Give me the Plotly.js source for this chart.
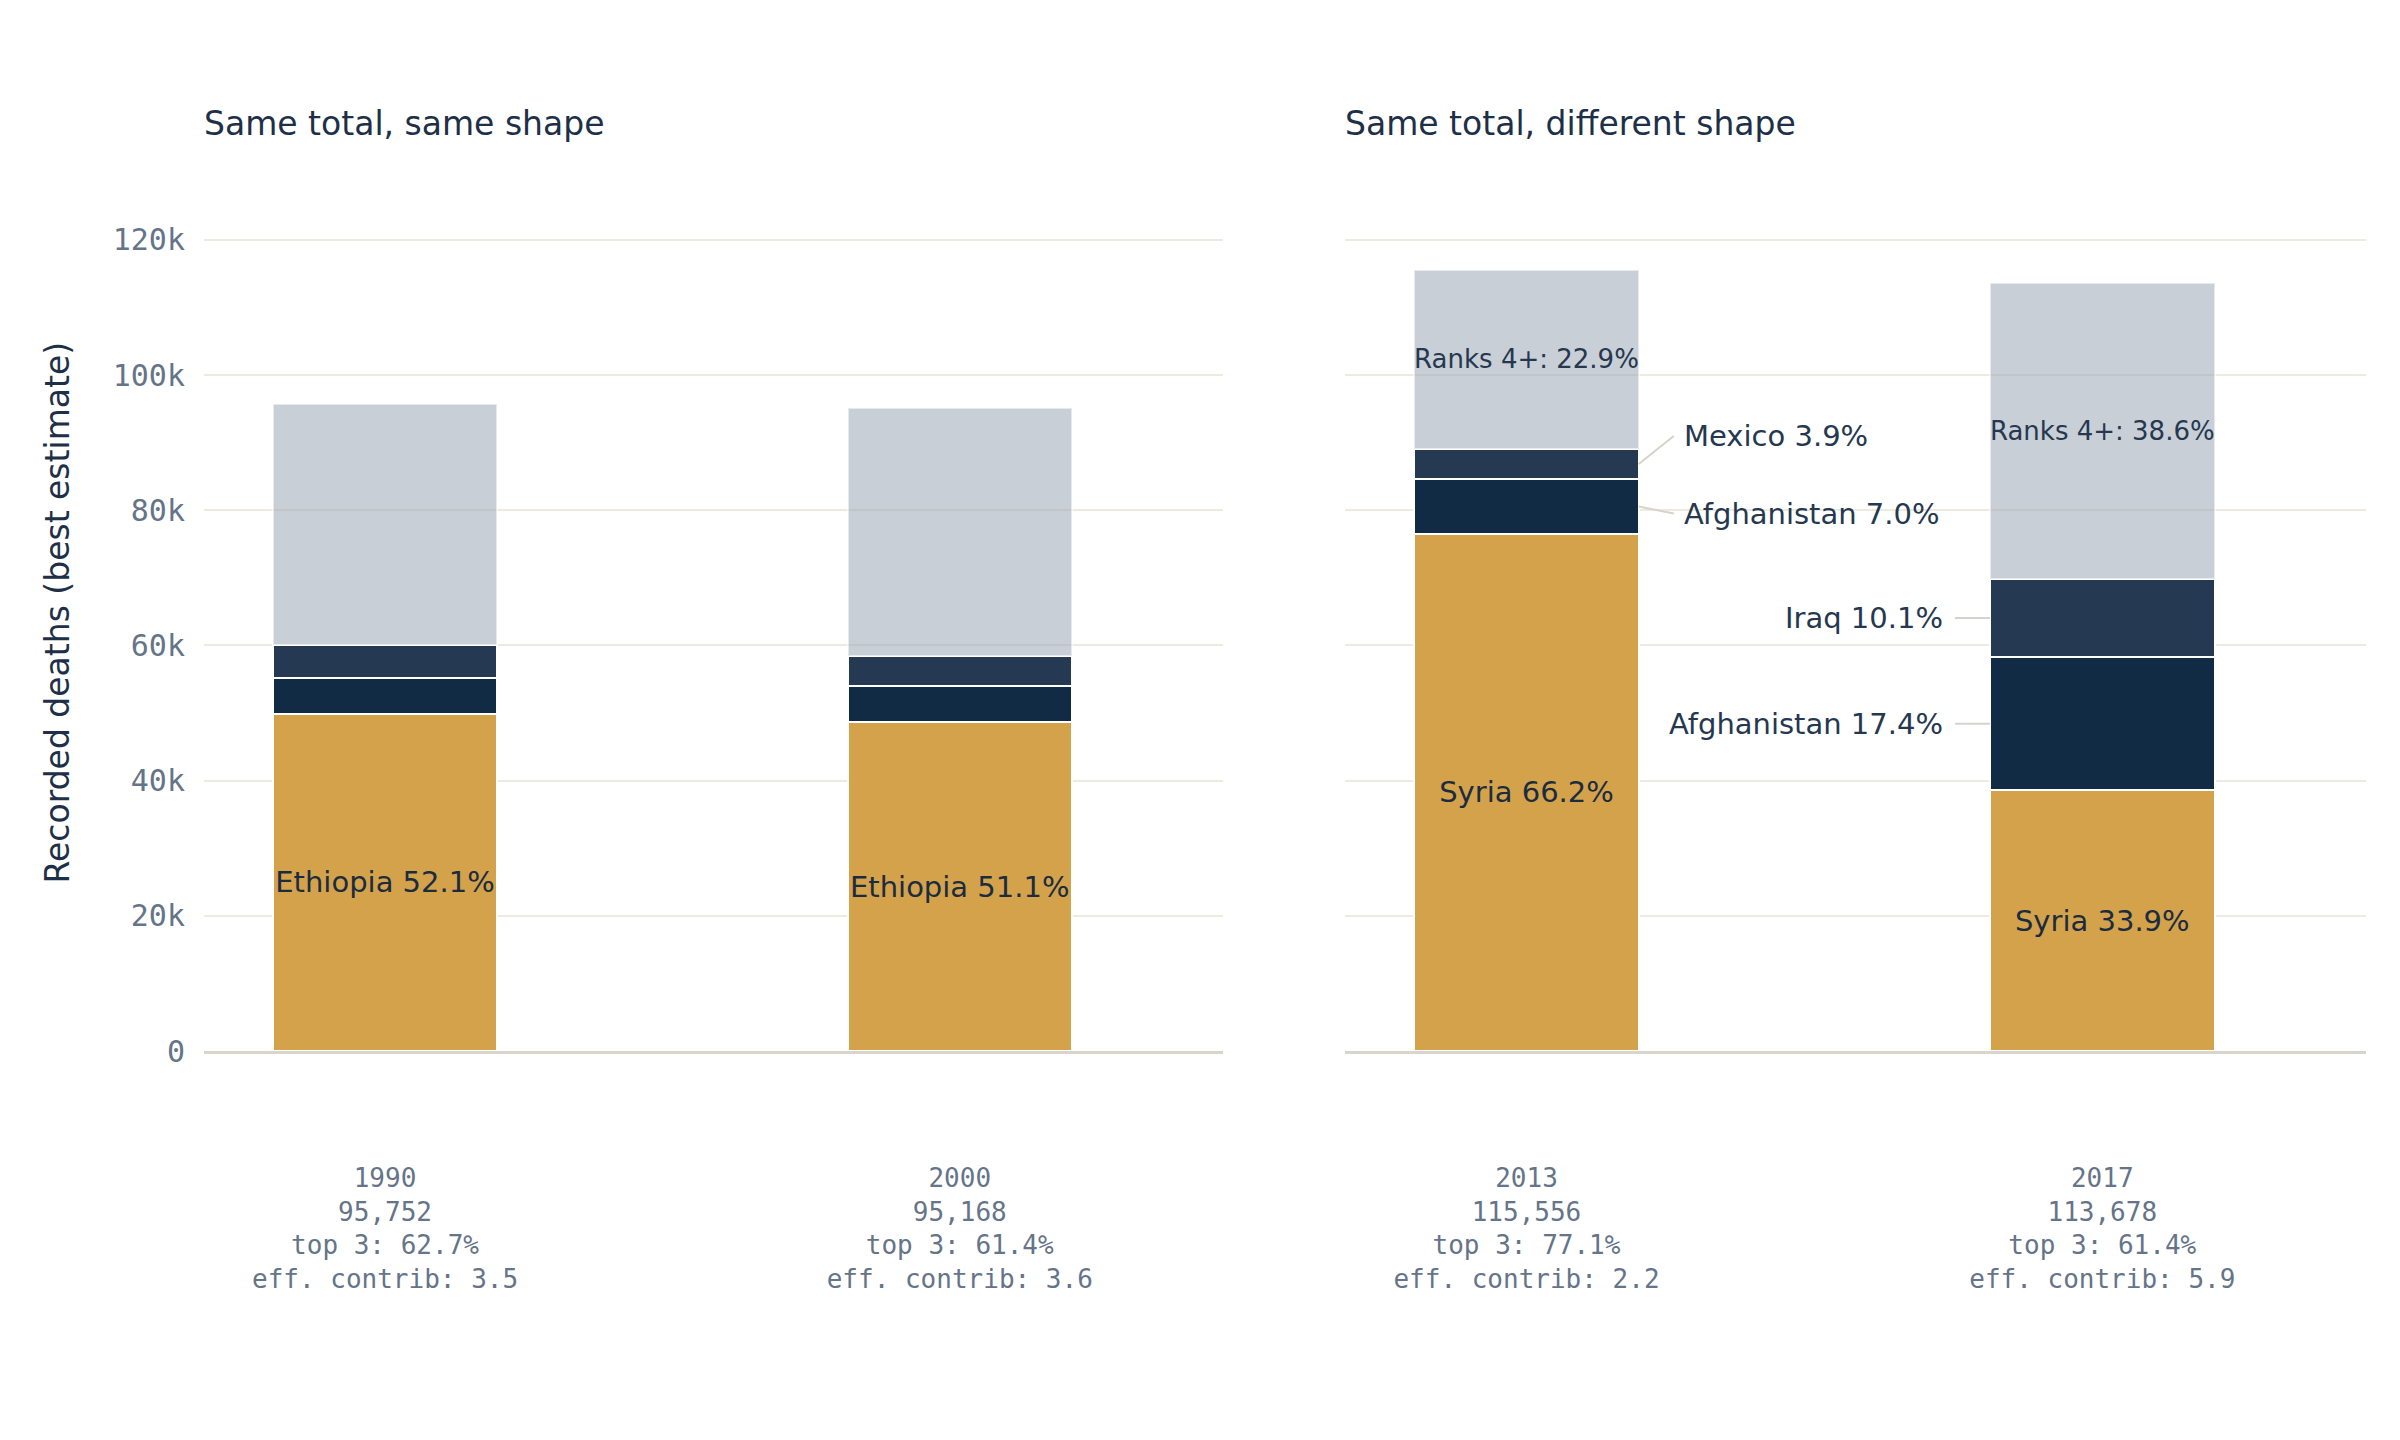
<!DOCTYPE html>
<html><head><meta charset="utf-8">
<script src="https://cdn.plot.ly/plotly-3.0.1.min.js"></script>
<style>html,body{margin:0;padding:0;background:#fff;}#chart{width:2400px;height:1440px;}</style>
</head><body><div id="chart"></div>
<script>
// ---- data ----
const years = ['1990', '2000', '2013', '2017'];
const panelTitles = ['Same total, same shape', 'Same total, different shape'];
const rank1Names = ['Ethiopia', 'Ethiopia', 'Syria', 'Syria'];
const rank2Names = ['', '', 'Afghanistan', 'Afghanistan'];
const rank3Names = ['', '', 'Mexico', 'Iraq'];
const rank1Vals = [49887, 48631, 76498, 38537];
const rank2Vals = [5307, 5380, 8089, 19780];
const rank3Vals = [4843, 4422, 4507, 11481];
const restVals = [35715, 36735, 26462, 43880];
const effContrib = [3.5, 3.6, 2.2, 5.9];
const yTickVals = [0, 20000, 40000, 60000, 80000, 100000, 120000];

// ---- styles ----
const FONT = 'DejaVu Sans, sans-serif';
const MONO = 'DejaVu Sans Mono, monospace';
const C_GOLD = '#d4a24a', C_R2 = '#122b44', C_R3 = '#253a52', C_REST = 'rgba(148,160,176,0.5)';
const TXT_DARK = '#1b2b40', TXT_MID = '#26384f', TICK = '#657488', TITLE = '#1e3048';
const BARW = 0.39;

const totals = years.map((_, i) => rank1Vals[i] + rank2Vals[i] + rank3Vals[i] + restVals[i]);
const pct = (v, i) => (100 * v / totals[i]).toFixed(1) + '%';

const panels = [[0, 1], [2, 3]];
const traces = [];
const annotations = [];

panels.forEach((idx, p) => {
  const xa = p === 0 ? 'x' : 'x2';
  const ya = p === 0 ? 'y' : 'y2';
  const xs = idx.map(i => years[i]);
  const common = {type: 'bar', x: xs, xaxis: xa, yaxis: ya, width: idx.map(() => BARW),
    textposition: 'inside', insidetextanchor: 'middle', constraintext: 'none', textangle: 0,
    hoverinfo: 'skip', cliponaxis: false};
  traces.push(Object.assign({}, common, {
    y: idx.map(i => rank1Vals[i]),
    text: idx.map(i => rank1Names[i] + ' ' + pct(rank1Vals[i], i)),
    textfont: {family: FONT, size: 29, color: TXT_DARK},
    marker: {color: C_GOLD, line: {color: '#ffffff', width: 2}}
  }));
  traces.push(Object.assign({}, common, {
    y: idx.map(i => rank2Vals[i]), text: idx.map(() => ''),
    marker: {color: C_R2, line: {color: '#ffffff', width: 2}}
  }));
  traces.push(Object.assign({}, common, {
    y: idx.map(i => rank3Vals[i]), text: idx.map(() => ''),
    marker: {color: C_R3, line: {color: '#ffffff', width: 2}}
  }));
  traces.push(Object.assign({}, common, {
    y: idx.map(i => restVals[i]),
    text: idx.map(i => p === 1 ? 'Ranks 4+: ' + pct(restVals[i], i) : ''),
    textfont: {family: FONT, size: 26, color: TXT_MID},
    marker: {color: C_REST, line: {color: 'rgba(255,255,255,0.55)', width: 2}}
  }));
});

// outside leader labels for the right panel (rank 2 and rank 3)
const labelPlacement = {
  2: {side: 'right', r2dy: 7, r3dy: -28},
  3: {side: 'left', r2dy: 0, r3dy: 0}
};
[2, 3].forEach((i, k) => {
  const pl = labelPlacement[i];
  const sgn = pl.side === 'right' ? 1 : -1;
  const xEdge = k + sgn * BARW / 2;
  const segs = [
    {name: rank2Names[i], v: rank2Vals[i], base: rank1Vals[i], dy: pl.r2dy},
    {name: rank3Names[i], v: rank3Vals[i], base: rank1Vals[i] + rank2Vals[i], dy: pl.r3dy}
  ];
  segs.forEach(s => {
    annotations.push({
      xref: 'x2', yref: 'y2', x: xEdge, y: s.base + s.v / 2,
      text: s.name + ' ' + pct(s.v, i),
      showarrow: true, arrowhead: 0, arrowwidth: 2, arrowcolor: '#d6d3cc', standoff: 0,
      ax: sgn * 35, ay: s.dy, axref: 'pixel', ayref: 'pixel',
      xanchor: pl.side === 'right' ? 'left' : 'right', yanchor: 'middle',
      borderpad: pl.side === 'right' ? 9 : 11, borderwidth: 1, bordercolor: 'rgba(0,0,0,0)',
      font: {family: FONT, size: 29, color: TXT_MID}
    });
  });
});

// panel titles
const domL = [0, 0.4713], domR = [0.5278, 1];
[domL, domR].forEach((d, p) => {
  annotations.push({
    xref: 'paper', yref: 'paper', x: d[0], y: 1, xanchor: 'left', yanchor: 'middle', yshift: 83,
    xshift: -2, text: panelTitles[p], showarrow: false, font: {family: FONT, size: 33, color: TITLE}
  });
});
// y-axis title
annotations.push({
  xref: 'paper', yref: 'paper', x: 0, y: 0.519, xshift: -147, xanchor: 'center', yanchor: 'middle',
  textangle: -90, text: 'Recorded deaths (best estimate)', showarrow: false,
  font: {family: FONT, size: 33, color: TITLE}
});

const tickText = i => years[i] + '<br>' + totals[i].toLocaleString('en-US') + '<br>top 3: ' +
  pct(rank1Vals[i] + rank2Vals[i] + rank3Vals[i], i) + '<br>eff. contrib: ' + effContrib[i].toFixed(1);

const xBase = {
  type: 'category', range: [-0.315, 1.458], showgrid: false, zeroline: false,
  showline: true, linecolor: '#d9d5cc', linewidth: 2.5, ticks: '',
  tickfont: {family: MONO, size: 26, color: TICK}, ticklabelstandoff: 102, fixedrange: true
};
const yBase = {
  range: [0, 125000], tickvals: yTickVals, tickformat: '~s', showgrid: true, gridcolor: '#eeeae0',
  gridwidth: 2, zeroline: false, showline: false, ticks: '', fixedrange: true,
  tickfont: {family: MONO, size: 30, color: TICK}, ticklabelstandoff: 18
};

const layout = {
  width: 2400, height: 1440,
  margin: {l: 204, r: 34, t: 206, b: 389, pad: 0},
  paper_bgcolor: '#ffffff', plot_bgcolor: '#ffffff',
  font: {family: FONT, color: TITLE},
  barmode: 'stack', showlegend: false, hovermode: false,
  xaxis: Object.assign({}, xBase, {domain: domL, anchor: 'y',
    tickvals: [years[0], years[1]], ticktext: [tickText(0), tickText(1)]}),
  xaxis2: Object.assign({}, xBase, {domain: domR, anchor: 'y2',
    tickvals: [years[2], years[3]], ticktext: [tickText(2), tickText(3)]}),
  yaxis: Object.assign({}, yBase, {anchor: 'x'}),
  yaxis2: Object.assign({}, yBase, {anchor: 'x2', matches: 'y', showticklabels: false}),
  annotations: annotations
};

Plotly.newPlot('chart', traces, layout, {staticPlot: true, displayModeBar: false});
</script>
</body></html>
